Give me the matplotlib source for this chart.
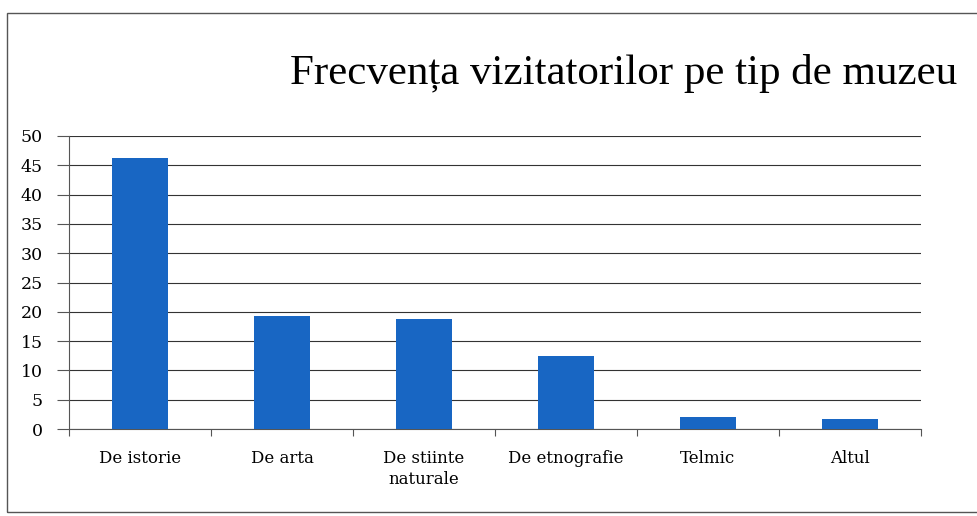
import matplotlib
matplotlib.use("Agg")
import matplotlib.pyplot as plt
from matplotlib.patches import Rectangle

categories = ["De istorie", "De arta", "De stiinte\nnaturale", "De etnografie", "Telmic", "Altul"]
values = [46.2, 19.3, 18.8, 12.4, 2.0, 1.7]
yticks = [0, 5, 10, 15, 20, 25, 30, 35, 40, 45, 50]
title = "Frecvența vizitatorilor pe tip de muzeu"

W, H = 977, 516
fig = plt.figure(figsize=(W/100, H/100), dpi=100)
fig.patch.set_facecolor("white")

# outer frame
fig.patches.append(Rectangle((7/W, 1-512/H), 1.2, (512-13)/H, transform=fig.transFigure,
                             fill=False, edgecolor="#555555", linewidth=1.0))

ax = fig.add_axes([69/W, 1-429/H, (921-69)/W, (429-136)/H])
x = list(range(len(categories)))
ax.bar(x, values, width=0.39, color="#1866c3", zorder=3)
ax.set_xlim(-0.5, len(categories)-0.5)
ax.set_ylim(0, 50)
ax.set_yticks(yticks)
ax.set_yticklabels([str(v) for v in yticks], fontsize=12.5, family="DejaVu Serif")
ax.yaxis.grid(True, color="#333333", linewidth=0.8, zorder=0)
ax.set_xticks([i - 0.5 for i in range(len(categories)+1)])
ax.set_xticklabels([])
ax.set_xticks(x, minor=True)
ax.set_xticklabels(categories, minor=True, fontsize=12, family="DejaVu Serif", linespacing=1.35)
ax.tick_params(axis="x", which="minor", length=0, pad=15)
ax.tick_params(axis="x", which="major", length=5, direction="out", color="#555555")
ax.tick_params(axis="y", length=9, direction="out", color="#555555", pad=10)
for s in ["top", "right"]:
    ax.spines[s].set_visible(False)
ax.spines["left"].set_color("#555555")
ax.spines["bottom"].set_color("#555555")

fig.text(290/W, 1-84/H, title, fontsize=31, family="Liberation Serif", ha="left", va="baseline")

fig.savefig("out.png", dpi=100)
